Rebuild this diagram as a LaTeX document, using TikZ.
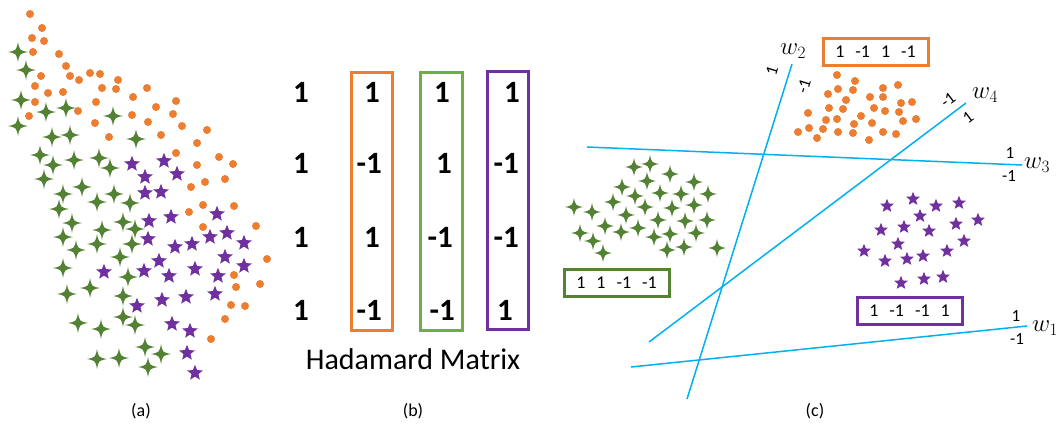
\documentclass[tikz,border=0pt]{standalone}
\usepackage{fontspec}
\setmainfont{Carlito}
\definecolor{orng}{HTML}{ED7D31}
\definecolor{grn}{HTML}{548235}
\definecolor{lgrn}{HTML}{70AD47}
\definecolor{prp}{HTML}{7030A0}
\definecolor{cyn}{HTML}{00B0F0}
\tikzset{
  dot/.pic={\fill[orng] (0,0) circle (4pt);},
  spark/.pic={\fill[grn] (0,-9.8) .. controls (1.7,-1.7) .. (9.8,0) .. controls (1.7,1.7) .. (0,9.8) .. controls (-1.7,1.7) .. (-9.8,0) .. controls (-1.7,-1.7) .. cycle;},
  pstar/.pic={\fill[prp] (-90:8.2) -- (-54:3.6) -- (-18:8.2) -- (18:3.6) -- (54:8.2) -- (90:3.6) -- (126:8.2) -- (162:3.6) -- (198:8.2) -- (234:3.6) -- cycle;},
  num/.style={inner sep=0pt, anchor=east, font=\fontsize{31}{33}\selectfont\bfseries},
  colbox/.style={line width=3pt},
  wline/.style={cyn, line width=1.5pt},
  code/.style={draw, line width=3pt, minimum width=105pt, minimum height=27pt, inner sep=0pt, font=\fontsize{18}{20}\selectfont},
  small/.style={inner sep=0pt, font=\fontsize{17}{19}\selectfont},
  wlab/.style={inner sep=0pt, font=\fontsize{24}{26}\selectfont},
  paneltag/.style={inner sep=0pt, font=\fontsize{18}{20}\selectfont},
}
\begin{document}
\begin{tikzpicture}[x=1pt,y=-1pt]
\useasboundingbox (0,0) rectangle (1056,432);
% ---------- panel (a) ----------
\foreach \x/\y in {30/14,42/28,32/38,44/41,33/52,59/54,66/66,41/76,70/76,79/80,90/73,100/74,118/80,35/86,48/93,63/92,102/88,116/89,147/88,133/97,35/102,96/102,176/101,156/107,78/111,29/116,132/115,173/114,95/123,148/122,182/126,207/130,109/137,161/135,197/143,176/153,219/157,233/164,197/165,205/182,225/179,191/187,203/205,234/206,189/212,203/227,256/226,267/259,234/275,236/287,260/284,231/305,245/306,225/319,211/339}
  \pic at (\x,\y) {dot};
\foreach \x/\y in {18/52,26/70,21/100,46/112,66/108,18/126,113/116,52/137,70/135,136/139,40/155,53/165,74/160,99/158,110/168,44/179,63/194,82/187,97/202,114/194,130/203,59/209,72/223,102/230,123/222,135/229,63/237,76/250,97/244,132/244,120/257,63/268,128/277,90/288,67/294,123/296,123/317,135/325,78/323,101/329,145/347,161/354,97/359,119/358,148/367}
  \pic at (\x,\y) {spark};
\foreach \x/\y in {132/164,164/161,145/177,177/174,145/193,161/192,149/221,171/217,217/214,210/237,227/233,148/239,175/247,192/244,244/243,225/257,159/261,144/271,104/272,169/276,195/269,244/266,218/276,215/294,186/297,162/300,137/306,172/324,190/331,187/353,195/373}
  \pic at (\x,\y) {pstar};
\node[paneltag] (capa) at (141,411) {(a)};
% ---------- panel (b) ----------
\foreach \r/\y in {1/92,2/163,3/237,4/310}
  \node[num] (h0\r) at (309,\y) {1};
\node[num] (h11) at (380,92) {1};
\node[num] (h12) at (382,163) {-1};
\node[num] (h13) at (380,237) {1};
\node[num] (h14) at (382,310) {-1};
\node[num] (h21) at (450,92) {1};
\node[num] (h22) at (452,163) {1};
\node[num] (h23) at (453,237) {-1};
\node[num] (h24) at (455,310) {-1};
\node[num] (h31) at (520,92) {1};
\node[num] (h32) at (519,163) {-1};
\node[num] (h33) at (519,237) {-1};
\node[num] (h34) at (513,310) {1};
\draw[colbox, orng] (351,72) rectangle (392,330);
\draw[colbox, lgrn] (420,72) rectangle (462,330);
\draw[colbox, prp] (487,71) rectangle (528,329);
\node[inner sep=0pt, font=\fontsize{30}{32}\selectfont] (hm) at (413,359) {Hadamard Matrix};
\node[paneltag] (capb) at (413,411) {(b)};
% ---------- panel (c) ----------
\foreach \x/\y in {837/75,855/81,828/94,838/89,853/90,846/100,870/97,883/88,883/97,898/85,829/108,843/109,874/108,885/111,901/103,912/102,808/113,826/120,837/119,861/116,899/112,854/124,872/123,903/121,916/119,798/132,809/128,823/129,838/132,853/133,883/132,896/134,817/138,869/140}
  \pic at (\x,\y) {dot};
\foreach \x/\y in {634/167,650/164,670/174,647/181,622/187,694/182,635/196,660/193,681/194,708/194,613/202,574/207,592/212,645/207,672/208,694/205,626/215,658/220,685/221,707/220,605/226,638/228,621/232,580/233,670/234,696/233,654/237,593/241,603/253,667/250,684/247,717/248}
  \pic[scale=0.92] at (\x,\y) {spark};
\foreach \x/\y in {887/206,913/199,936/206,959/203,920/216,881/230,904/227,929/231,956/224,978/220,898/244,964/241,864/251,947/251,885/261,907/259,923/256,901/283,924/279,943/277}
  \pic[scale=0.88] at (\x,\y) {pstar};
% lines
\coordinate (w2a) at (687,399); \coordinate (w2b) at (792,64);
\coordinate (w3a) at (587,147); \coordinate (w3b) at (1022,165);
\coordinate (w4a) at (649,342); \coordinate (w4b) at (966,103);
\coordinate (w1a) at (631,367); \coordinate (w1b) at (1027,326);
\draw[wline] (w2a) -- (w2b);
\draw[wline] (w3a) -- (w3b);
\draw[wline] (w4a) -- (w4b);
\draw[wline] (w1a) -- (w1b);
\node[wlab] (lw2) at (793,51) {$w_2$};
\node[wlab] (lw4) at (985,95) {$w_4$};
\node[wlab] (lw3) at (1037,165) {$w_3$};
\node[wlab] (lw1) at (1045,328) {$w_1$};
\node[small, rotate=72.6] (w2p) at (772,71) {1};
\node[small, rotate=72.6] (w2m) at (804,86) {-1};
\node[small, rotate=37] (w4m) at (948,100) {-1};
\node[small, rotate=37] (w4p) at (968,118) {1};
\node[small] (w3p) at (1010,153) {1};
\node[small] (w3m) at (1009,176) {-1};
\node[small] (w1p) at (1016,316) {1};
\node[small] (w1m) at (1017,339) {-1};
\node[code, orng] (bo) at (875.5,51.5) {\textcolor{black}{1\hspace{11pt}-1\hspace{11pt}1\hspace{11pt}-1}};
\node[code, grn] (bg) at (616.5,283) {\textcolor{black}{1\hspace{11pt}1\hspace{11pt}-1\hspace{11pt}-1}};
\node[code, prp] (bp) at (909.5,311) {\textcolor{black}{1\hspace{11pt}-1\hspace{11pt}-1\hspace{11pt}1}};
\node[paneltag] (capc) at (815,411) {(c)};
\end{tikzpicture}
\end{document}
